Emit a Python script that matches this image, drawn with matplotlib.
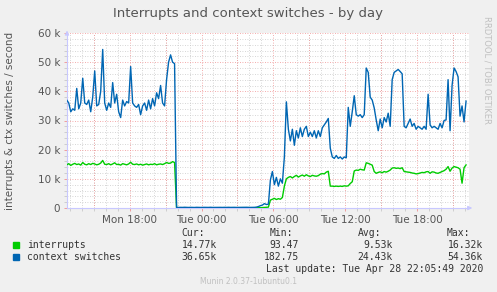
import numpy as np
import matplotlib
matplotlib.use("Agg")
import matplotlib.pyplot as plt
from matplotlib.ticker import MultipleLocator, FuncFormatter

# values in thousands per second, one sample every 10 minutes from Mon 12:45
interrupts = [
    14.8, 15.2, 14.6, 15.0, 15.3, 14.9, 15.1, 14.7, 15.6, 15.0,
    14.8, 15.2, 14.9, 15.3, 15.1, 14.8, 15.0, 15.4, 16.3, 15.0,
    14.9, 15.2, 14.8, 15.1, 15.5, 14.9, 15.0, 14.7, 15.2, 15.0,
    14.8, 15.1, 15.7, 15.0, 14.9, 15.1, 14.8, 15.0, 14.7, 14.9,
    15.1, 14.8, 15.0, 14.9, 15.2, 14.8, 15.0, 15.1, 14.9, 15.2,
    15.6, 15.3, 15.4, 15.9, 15.6,
    0.10, 0.09, 0.11, 0.10, 0.12, 0.10, 0.09, 0.11, 0.10, 0.10,
    0.12, 0.10, 0.09, 0.10, 0.11, 0.10, 0.10, 0.12, 0.09, 0.10,
    0.11, 0.10, 0.10, 0.09, 0.11, 0.10, 0.12, 0.10, 0.10, 0.11,
    0.09, 0.10, 0.10, 0.11, 0.10, 0.12, 0.10, 0.09, 0.10, 0.11,
    0.10, 0.10, 0.12, 0.15, 0.20, 0.25, 0.30,
    2.7, 3.0, 3.3, 2.9, 3.2, 3.0, 3.6, 7.5, 10.0, 10.5,
    10.8, 10.3, 10.8, 11.2, 10.6, 11.0, 11.3, 10.9, 11.4, 11.0,
    10.8, 11.2, 11.0, 10.9, 11.1, 11.6, 11.8, 11.7, 12.3, 12.6,
    7.5, 7.5, 7.4, 7.5, 7.4, 7.5, 7.4, 7.6, 7.5, 7.6,
    8.4, 9.0, 12.7, 13.0, 12.9, 13.3, 13.1, 13.0, 15.5, 15.3,
    15.0, 14.7, 12.5, 11.9, 12.2, 12.4, 12.1, 12.5, 12.3, 12.6,
    13.0, 13.7, 13.8, 13.6, 13.7, 13.5, 13.8, 12.5, 12.4, 12.3,
    12.2, 12.0, 11.9, 11.7, 11.8, 12.0, 12.2, 12.1, 12.4, 12.5,
    11.9, 12.4, 12.3, 12.0, 11.9, 12.2, 12.5, 12.8, 13.3, 14.2,
    12.6, 13.7, 14.2, 14.0, 13.8, 13.3, 8.5, 13.8, 14.77,
]
context_switches = [
    37.0, 36.0, 33.0, 34.0, 33.5, 41.0, 34.0, 36.0, 44.5, 36.0,
    35.5, 37.0, 33.0, 38.0, 47.0, 35.0, 35.5, 40.0, 54.36, 36.0,
    33.5, 36.0, 34.5, 43.0, 36.0, 39.0, 33.0, 31.0, 37.0, 35.0,
    36.5, 36.0, 48.5, 36.0, 35.0, 34.5, 35.5, 32.0, 35.0, 36.0,
    33.5, 37.0, 34.0, 37.5, 35.0, 39.5, 37.5, 42.0, 36.0, 35.0,
    44.0, 50.0, 52.5, 50.0, 49.5,
    0.20, 0.19, 0.22, 0.20, 0.24, 0.21, 0.19, 0.22, 0.20, 0.18,
    0.23, 0.20, 0.19, 0.21, 0.22, 0.20, 0.20, 0.24, 0.19, 0.20,
    0.22, 0.20, 0.21, 0.19, 0.22, 0.20, 0.23, 0.20, 0.21, 0.22,
    0.19, 0.20, 0.21, 0.22, 0.20, 0.24, 0.21, 0.19, 0.20, 0.22,
    0.30, 0.50, 0.80, 1.0, 1.5, 1.2, 1.3,
    9.6, 12.5, 8.0, 10.5, 7.5, 10.0, 8.5, 17.5, 36.4, 27.0,
    23.0, 27.0, 21.5, 26.5, 24.0, 27.5, 24.5, 27.0, 28.0, 24.5,
    26.0, 24.5, 26.5, 24.0, 26.5, 24.5, 27.5, 28.5, 29.5, 30.7,
    20.5, 17.5, 17.0, 18.0, 17.0, 17.5, 16.8, 17.5, 17.2, 34.5,
    28.0, 33.0, 38.5, 32.0, 31.5, 32.0, 31.0, 32.0, 48.0, 46.5,
    38.0, 37.0, 34.3, 30.2, 26.5, 30.5, 27.5, 31.0, 29.5, 32.5,
    28.0, 44.0, 46.5, 47.0, 47.5, 46.8, 46.0, 28.0, 27.5, 29.0,
    30.5, 28.0, 29.0, 27.0, 28.0, 27.5, 27.0, 28.0, 27.0, 39.0,
    28.5, 27.5, 28.0, 27.5, 27.0, 29.0, 27.5, 30.0, 30.2, 44.0,
    26.5, 42.0, 48.0, 46.8, 45.0, 31.5, 35.0, 29.5, 36.65,
]

tick_labels = ["Mon 18:00", "Tue 00:00", "Tue 06:00", "Tue 12:00", "Tue 18:00"]
tick_hours = [18, 24, 30, 36, 42]

legend_names = ["interrupts", "context switches"]
legend_cur = ["14.77k", "36.65k"]
legend_min = ["93.47", "182.75"]
legend_avg = ["9.53k", "24.43k"]
legend_max = ["16.32k", "54.36k"]

green = "#00cc00"
blue = "#0066b3"

# hours since Mon 00:00, 10 min steps
hours = 12.75 + np.arange(len(interrupts)) / 6.0
irq = np.array(interrupts) * 1000
ctx = np.array(context_switches) * 1000

fig = plt.figure(figsize=(4.97, 2.92), dpi=100, facecolor="#f0f0f0")
ax = fig.add_axes([67 / 497, 1 - 208 / 292, 402 / 497, 175 / 292])
ax.set_facecolor("white")

ax.plot(hours, irq, color=green, lw=1.0, zorder=3)
ax.plot(hours, ctx, color=blue, lw=1.0, zorder=4)

ax.set_xlim(12.77, 46.33)
ax.set_ylim(0, 60000)

ax.yaxis.set_major_locator(MultipleLocator(10000))
ax.yaxis.set_minor_locator(MultipleLocator(2000))

# labels only every 6 hours, red lines every 3, grey every hour
ax.set_xticks(tick_hours, labels=tick_labels)
ax.xaxis.set_minor_locator(MultipleLocator(1))

ax.grid(which="minor", color="#c8c8c8", lw=0.6, linestyle=(0, (1, 2)), zorder=1)
ax.grid(which="major", color="#f09090", lw=0.6, linestyle=(0, (1, 2)), zorder=2)
for h in range(15, 46, 3):
    if h not in tick_hours:
        ax.axvline(h, color="#f09090", lw=0.6, linestyle=(0, (1, 2)), zorder=2)

ax.yaxis.set_major_formatter(FuncFormatter(lambda v, p: "0" if v == 0 else "%d k" % (v / 1000)))

ax.tick_params(axis="both", which="major", labelsize=7.5, labelcolor="#555555",
               color="#f09090", length=2, width=0.6, pad=3)
ax.tick_params(axis="both", which="minor", color="#c8c8c8", length=2, width=0.6)

for s in ["top", "right"]:
    ax.spines[s].set_visible(False)
for s in ["left", "bottom"]:
    ax.spines[s].set_color("#c8c8ff")
    ax.spines[s].set_linewidth(0.8)

# axis arrows
ax.annotate("", xy=(0, 1.03), xytext=(0, 0.98), xycoords="axes fraction",
            arrowprops=dict(arrowstyle="-|>", color="#c8c8ff", lw=0.8, mutation_scale=6),
            annotation_clip=False)
ax.annotate("", xy=(1.015, 0), xytext=(0.99, 0), xycoords="axes fraction",
            arrowprops=dict(arrowstyle="-|>", color="#c8c8ff", lw=0.8, mutation_scale=6),
            annotation_clip=False)

fig.text(248 / 497, 1 - 14 / 292, "Interrupts and context switches - by day",
         ha="center", va="center", fontsize=9.5, color="#555555")
fig.text(10 / 497, 1 - 121 / 292, "interrupts & ctx switches / second",
         rotation=90, ha="center", va="center", fontsize=7.5, color="#555555")
fig.text(487 / 497, 1 - 70 / 292, "RRDTOOL / TOBI OETIKER", rotation=270,
         ha="center", va="center", fontsize=6, color="#c0c0c0")

# legend block
mono = dict(family="DejaVu Sans Mono", fontsize=7, color="#333333", va="center")
hdr_y = 1 - 233 / 292
for x, t in zip([181, 270, 358, 447], ["Cur:", "Min:", "Avg:", "Max:"]):
    fig.text(x / 497, hdr_y, t, ha="left", **mono)

for row, (name, col) in enumerate(zip(legend_names, [green, blue])):
    y = 1 - (245 + 12 * row) / 292
    fig.patches.append(plt.Rectangle((13 / 497, y - 3 / 292), 6 / 497, 6 / 292,
                                     transform=fig.transFigure, color=col))
    fig.text(27 / 497, y, name, ha="left", **mono)
    vals = [legend_cur[row], legend_min[row], legend_avg[row], legend_max[row]]
    for x, v in zip([217, 299, 393, 483], vals):
        fig.text(x / 497, y, v, ha="right", **mono)

fig.text(483 / 497, 1 - 269 / 292, "Last update: Tue Apr 28 22:05:49 2020",
         ha="right", **mono)
fig.text(248 / 497, 1 - 281 / 292, "Munin 2.0.37-1ubuntu0.1", ha="center",
         va="center", fontsize=5.5, color="#c0c0c0")

fig.savefig("out.png", dpi=100, facecolor=fig.get_facecolor())
